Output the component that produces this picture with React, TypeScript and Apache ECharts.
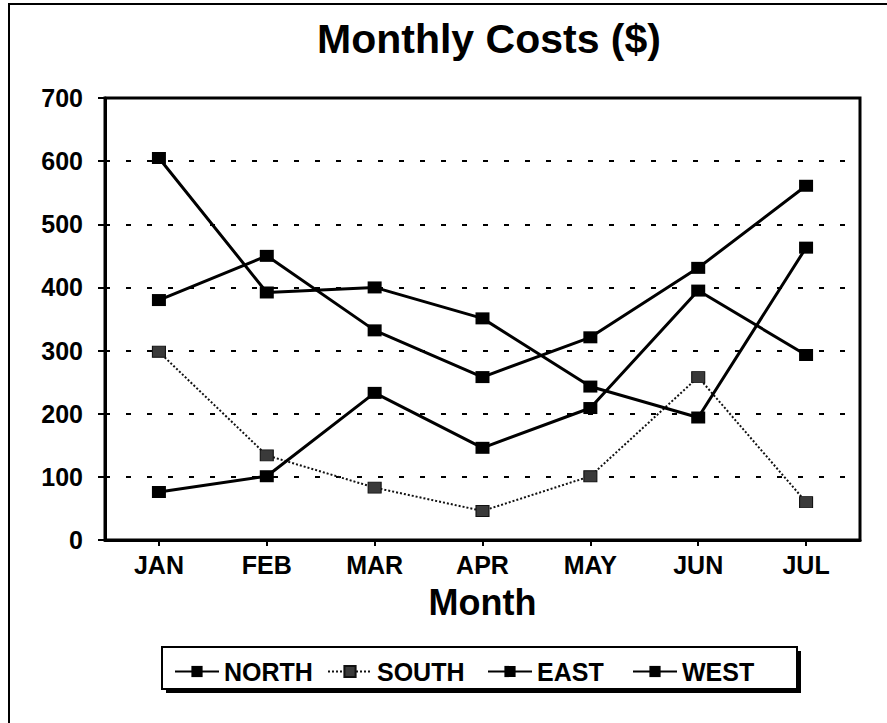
import React, { useEffect, useRef } from "react";
import * as echarts from "echarts";

const months = ["JAN", "FEB", "MAR", "APR", "MAY", "JUN", "JUL"];
const north = [380, 450, 332, 258, 321, 431, 561];
const south = [298, 134, 83, 46, 101, 258, 60];
const east = [605, 392, 400, 351, 243, 194, 463];
const west = [76, 101, 233, 146, 209, 395, 293];
const seriesNames = ["NORTH", "SOUTH", "EAST", "WEST"];
const yTicks = { min: 0, max: 700, interval: 100 };

const FONT = "'Liberation Sans', Arial, Helvetica, sans-serif";
const legendLefts = [169, 322, 482, 627];

export default function App() {
  const ref = useRef<HTMLDivElement>(null);
  useEffect(() => {
    if (!ref.current) return;
    const chart = echarts.init(ref.current, null, { renderer: "svg" });
    const solidSeries = (name: string, data: number[]) => ({
      name,
      type: "line",
      data,
      symbol: "rect",
      symbolSize: [14, 12],
      showSymbol: true,
      itemStyle: { color: "#000" },
      lineStyle: { color: "#000", width: 3 },
      z: 3,
    });
    chart.setOption({
      animation: false,
      backgroundColor: "#fff",
      textStyle: { fontFamily: FONT },
      title: {
        text: "Monthly Costs ($)",
        left: 484,
        textAlign: "center",
        top: 13,
        textStyle: { fontFamily: FONT, fontSize: 41, fontWeight: "bold", color: "#000" },
      },
      graphic: [
        {
          type: "polyline",
          shape: { points: [[890, 4], [9, 4], [9, 726]] },
          style: { stroke: "#000", lineWidth: 2, fill: null },
          z: 0,
        },
        {
          type: "rect",
          shape: { x: 166, y: 651, width: 635, height: 42 },
          style: { fill: "#000" },
          z: 0,
        },
        {
          type: "rect",
          shape: { x: 162, y: 647, width: 635, height: 42 },
          style: { fill: "#fff", stroke: "#000", lineWidth: 2 },
          z: 1,
        },
      ],
      legend: seriesNames.map((name, i) => ({
        left: legendLefts[i],
        top: 654,
        itemWidth: 44,
        itemHeight: 14,
        textStyle: { fontFamily: FONT, fontSize: 25, fontWeight: "bold", color: "#000" },
        data: [name],
        z: 5,
      })),
      grid: {
        left: 105,
        right: 27,
        top: 98,
        bottom: 183,
        show: true,
        borderColor: "#000",
        borderWidth: 3,
        backgroundColor: "transparent",
      },
      xAxis: {
        type: "category",
        data: months,
        boundaryGap: true,
        name: "Month",
        nameLocation: "middle",
        nameGap: 44,
        nameTextStyle: { fontFamily: FONT, fontSize: 36, fontWeight: "bold", color: "#000" },
        axisLine: { lineStyle: { color: "#000", width: 3 } },
        axisTick: { show: true, alignWithLabel: true, length: 6, lineStyle: { color: "#000", width: 2 } },
        axisLabel: { margin: 12, fontFamily: FONT, fontSize: 25, fontWeight: "bold", color: "#000" },
        splitLine: { show: false },
      },
      yAxis: {
        type: "value",
        min: yTicks.min,
        max: yTicks.max,
        interval: yTicks.interval,
        axisLine: { show: true, lineStyle: { color: "#000", width: 3 } },
        axisTick: { show: true, length: 7, lineStyle: { color: "#000", width: 2 } },
        axisLabel: { margin: 22, fontFamily: FONT, fontSize: 25, fontWeight: "bold", color: "#000" },
        splitLine: { show: true, lineStyle: { color: "#000", width: 2, type: [5, 16] } },
      },
      series: [
        solidSeries("NORTH", north),
        {
          name: "SOUTH",
          type: "line",
          data: south,
          symbol: "rect",
          symbolSize: [13, 11],
          showSymbol: true,
          itemStyle: { color: "#3a3a3a", borderColor: "#111", borderWidth: 1 },
          lineStyle: { color: "#111", width: 2, type: [2, 2] },
          z: 3,
        },
        solidSeries("EAST", east),
        solidSeries("WEST", west),
      ],
    });
    return () => chart.dispose();
  }, []);
  return <div ref={ref} style={{ width: 887, height: 723, position: "absolute", left: 0, top: 0 }} />;
}
